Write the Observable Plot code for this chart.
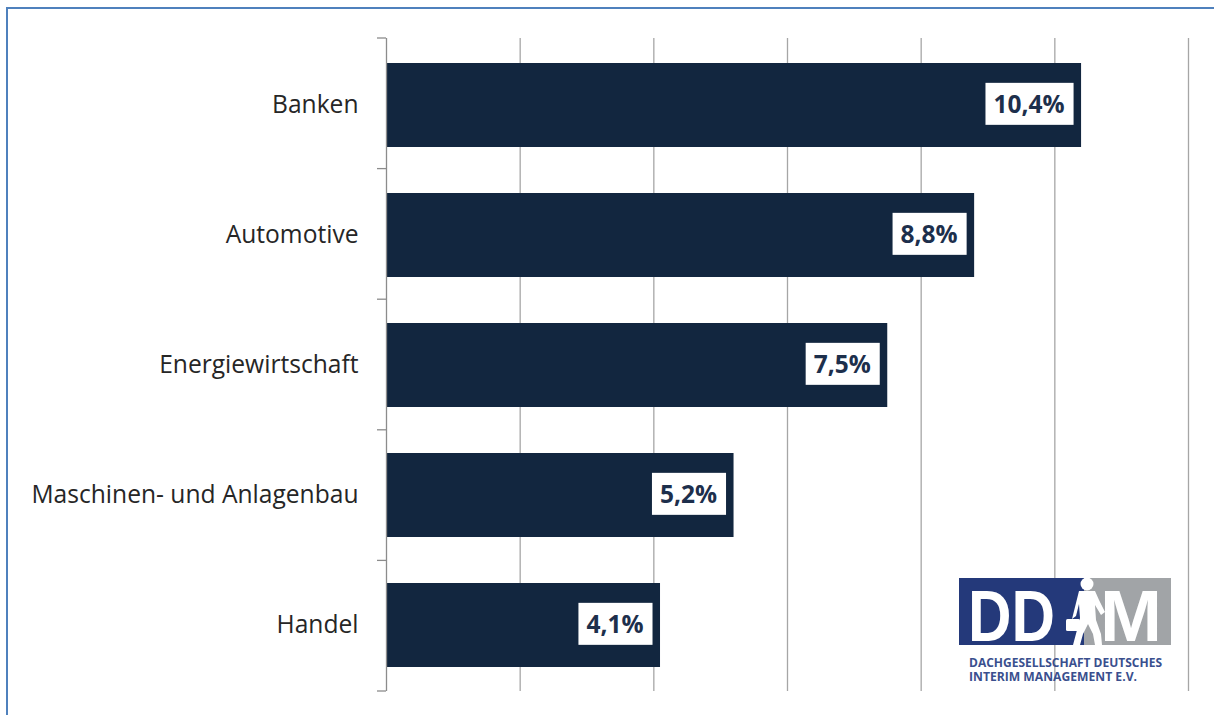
<!DOCTYPE html>
<html>
<head>
<meta charset="utf-8">
<script src="https://cdn.jsdelivr.net/npm/d3@7"></script>
<script src="https://cdn.jsdelivr.net/npm/@observablehq/plot@0.6"></script>
<style>
  html, body { margin: 0; padding: 0; background: #fff; overflow: hidden; }
  #wrap { position: relative; width: 1214px; height: 715px; }
  #frame { position: absolute; left: 6px; top: 7px; width: 1240px; height: 740px; border: 2px solid #4f81bd; box-sizing: border-box; }
  #chart { position: absolute; left: 0; top: 0; }
  #logo { position: absolute; left: 955px; top: 574px; }
</style>
</head>
<body>
<div id="wrap">
  <div id="frame"></div>
  <div id="chart"></div>
  <svg id="logo" width="220" height="115" viewBox="0 0 220 115">
    <rect x="4" y="4" width="126" height="67" fill="#24397a"/>
    <rect x="129" y="4" width="87" height="67" fill="#a1a4a7"/>
    <text x="13" y="67" font-family="Liberation Sans, Arial, sans-serif" font-weight="bold" font-size="73" fill="#fff" textLength="87" lengthAdjust="spacingAndGlyphs">DD</text>
    <text x="145" y="67" font-family="Liberation Sans, Arial, sans-serif" font-weight="bold" font-size="73" fill="#fff" textLength="62" lengthAdjust="spacingAndGlyphs">M</text>
    <!-- walking figure -->
    <g fill="#fff">
      <circle cx="132" cy="10" r="6.5"/>
      <path d="M124 17 L140 17 L144 26 L150 38 L146 41 L140 31 L141 46 L146 60 L147 71 L140 71 L138 60 L133 50 L128 60 L125 71 L118 71 L122 56 L125 44 L124 30 L121 42 L117 45 Z"/>
      <rect x="111" y="45" width="14" height="12" rx="1.5"/>
    </g>
    <text x="14" y="93" font-family="Open Sans, sans-serif" font-weight="bold" font-size="11.5" fill="#3a4f8e" textLength="193" lengthAdjust="spacingAndGlyphs">DACHGESELLSCHAFT DEUTSCHES</text>
    <text x="14" y="107" font-family="Open Sans, sans-serif" font-weight="bold" font-size="11.5" fill="#3a4f8e" textLength="168" lengthAdjust="spacingAndGlyphs">INTERIM MANAGEMENT E.V.</text>
  </svg>
</div>
<script>
// ---- data ----
const categories = ["Banken", "Automotive", "Energiewirtschaft", "Maschinen- und Anlagenbau", "Handel"];
const values = [10.4, 8.8, 7.5, 5.2, 4.1];
const valueLabels = ["10,4%", "8,8%", "7,5%", "5,2%", "4,1%"];
const gridTicks = [2, 4, 6, 8, 10, 12];
const xDomain = [0, 12];

const data = categories.map((name, i) => ({name, value: values[i], label: valueLabels[i]}));

// category boundary ticks on the y axis
function boundaryTicks(index, scales, vals, dims) {
  const g = d3.create("svg:g");
  const n = categories.length;
  const top = dims.marginTop, bottom = dims.height - dims.marginBottom;
  const step = (bottom - top) / n;
  const x0 = dims.marginLeft;
  for (let i = 0; i <= n; i++) {
    const y = top + i * step;
    g.append("line").attr("x1", x0 - 9).attr("x2", x0).attr("y1", y).attr("y2", y)
      .attr("stroke", "#8c8c8c").attr("stroke-width", 1.3);
  }
  return g.node();
}

const chart = Plot.plot({
  width: 1214,
  height: 715,
  marginLeft: 386,
  marginRight: 26,
  marginTop: 38,
  marginBottom: 24,
  style: {fontFamily: "Open Sans, sans-serif", fontSize: "24.6px", background: "transparent", color: "#262626"},
  x: {domain: xDomain, axis: null},
  y: {domain: categories, paddingInner: 0.355, paddingOuter: 0.1775, label: null, tickSize: 0, tickPadding: 28},
  marks: [
    Plot.ruleX(gridTicks, {stroke: "#a6a6a6", strokeWidth: 1.3}),
    Plot.barX(data, {x: "value", y: "name", fill: "#12263f"}),
    Plot.ruleX([0], {stroke: "#8c8c8c", strokeWidth: 1.3}),
    boundaryTicks,
    Plot.text(data, {x: "value", y: "name", text: "label", textAnchor: "end", dx: -17,
      fill: "#1d2f4c", fontWeight: "bold", fontSize: 24.5, fontFamily: "Open Sans, sans-serif"})
  ]
});
document.getElementById("chart").append(chart);

// white boxes behind value labels
d3.select(chart).selectAll('g[aria-label="text"] text').each(function() {
  const b = this.getBBox();
  const r = document.createElementNS("http://www.w3.org/2000/svg", "rect");
  r.setAttribute("x", b.x - 8);
  r.setAttribute("y", b.y + b.height / 2 - 21);
  r.setAttribute("width", b.width + 17);
  r.setAttribute("height", 42);
  r.setAttribute("fill", "#fff");
  const t = this.getAttribute("transform");
  if (t) r.setAttribute("transform", t);
  this.parentNode.insertBefore(r, this);
});
</script>
</body>
</html>
